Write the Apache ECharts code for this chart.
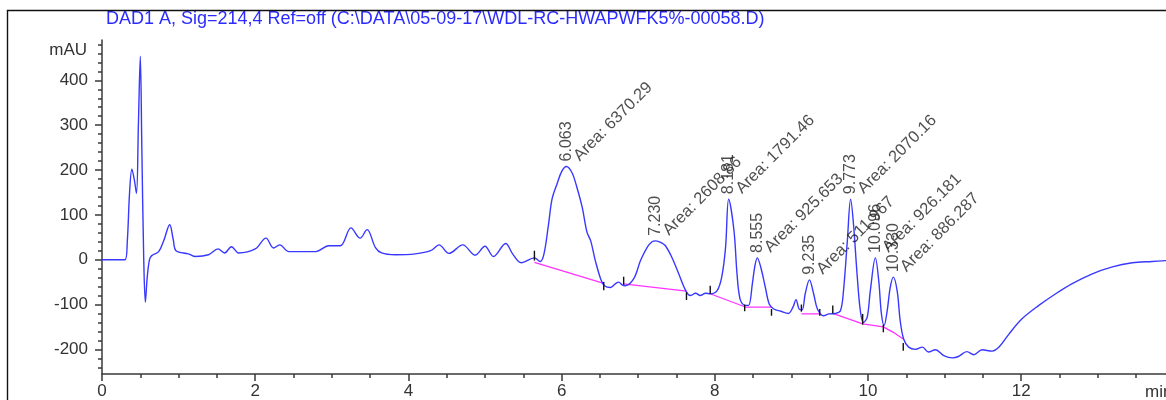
<!DOCTYPE html>
<html>
<head>
<meta charset="utf-8">
<script src="https://cdn.jsdelivr.net/npm/echarts@6/dist/echarts.min.js"></script>
<style>
  html, body { margin: 0; padding: 0; background: #fff; }
  #chart { width: 1166px; height: 400px; }
</style>
</head>
<body>
<div id="chart"></div>
<script>
// DAD1 A chromatogram trace: retention time (min) and absorbance (mAU)
const timeMin = [
  0, 0.30, 0.33, 0.36, 0.39, 0.42, 0.45, 0.475, 0.50, 0.52, 0.545, 0.566, 0.59, 0.62, 0.65, 0.74, 0.805, 0.884, 0.93, 0.967,
  1.13, 1.22, 1.39, 1.515, 1.60, 1.69, 1.785, 2.0, 2.14, 2.24, 2.32, 2.44, 2.79, 2.96, 3.11, 3.25, 3.37, 3.46, 3.57, 3.65,
  3.83, 4.09, 4.29, 4.40, 4.53, 4.71, 4.87, 5.00, 5.11, 5.27, 5.36, 5.475, 5.645, 5.72, 5.77, 5.83, 5.875, 5.94, 6.005, 6.063,
  6.136, 6.20, 6.27, 6.33, 6.38, 6.44, 6.51, 6.56, 6.64, 6.70, 6.745, 6.79, 6.83, 6.94, 7.03, 7.115, 7.18, 7.23, 7.30, 7.355,
  7.44, 7.53, 7.62, 7.68, 7.75, 7.81, 7.88, 7.94, 8.03, 8.09, 8.14, 8.181, 8.25, 8.29, 8.33, 8.39, 8.44, 8.49, 8.52, 8.555,
  8.60, 8.66, 8.71, 8.77, 8.86, 8.96, 9.02, 9.06, 9.10, 9.14, 9.18, 9.235, 9.29, 9.34, 9.42, 9.49, 9.57, 9.64, 9.68, 9.73,
  9.773, 9.81, 9.86, 9.90, 9.94, 9.99, 10.03, 10.096, 10.14, 10.175, 10.21, 10.25, 10.29, 10.33, 10.38, 10.42, 10.465, 10.53, 10.62, 10.71,
  10.79, 10.88, 10.99, 11.10, 11.18, 11.29, 11.38, 11.49, 11.62, 11.71, 11.84, 12.01, 12.23, 12.45, 12.66, 12.92, 13.19, 13.45, 13.71, 13.89
];
const signalMAU = [
  0, 0, 40, 150, 202, 180, 148, 300, 454, 250, 0, -95, -40, 0, 9, 18, 42, 78, 45, 20,
  13, 7, 11, 24, 15, 29, 15, 24, 48, 26, 33, 18, 18, 31, 31, 71, 48, 67, 27, 15,
  11, 13, 20, 33, 14, 33, 10, 30, 7, 36, 13, -7, 4, -4, 13, 80, 135, 169, 198, 208,
  194, 161, 116, 62, 42, -2, -43, -58, -62, -54, -50, -56, -58, -43, -2, 27, 40, 42, 38, 31,
  5, -32, -69, -80, -75, -80, -75, -76, -69, -39, 27, 135, 65, -32, -88, -102, -102, -54, -17, 4,
  -17, -62, -99, -110, -115, -120, -106, -89, -110, -112, -76, -45, -76, -110, -125, -121, -120, -114, -69, 42,
  135, 80, -39, -114, -140, -128, -69, 4, -47, -121, -147, -114, -62, -39, -69, -136, -177, -195, -200, -195,
  -206, -201, -214, -219, -216, -205, -212, -201, -204, -195, -166, -132, -102, -76, -54, -32, -16, -7, -4, -2
];

// Integrated peaks: retention time, apex height (mAU) and reported area
const peakTimes = [6.063, 7.230, 8.181, 8.555, 9.235, 9.773, 10.096, 10.330];
const peakHeights = [208, 42, 135, 4, -45, 135, 4, -39];
const peakAreas = ['6370.29', '2608.86', '1791.46', '925.653', '511.967', '2070.16', '926.181', '886.287'];

// Integration baselines (one list of times and values per drawn segment)
const baselineTimes = [
  [5.645, 6.55], [6.81, 7.63], [7.94, 8.39], [8.39, 8.74], [9.13, 9.37], [9.54, 9.93, 10.2, 10.33, 10.46]
];
const baselineValues = [
  [-6, -53], [-54, -70], [-76, -105], [-106, -106], [-121, -121], [-120, -143, -150, -162, -177]
];

// Peak start/end tick marks: time, upper and lower end (mAU)
const tickTimes = [5.645, 6.55, 6.81, 7.63, 7.94, 8.39, 8.74, 9.13, 9.37, 9.54, 9.93, 10.2, 10.46];
const tickUpper = [20, -50, -38, -73, -58, -100, -110, -100, -110, -102, -121, -145, -186];
const tickLower = [-2, -68, -56, -90, -76, -115, -125, -116, -125, -120, -145, -162, -203];

// Axis ticks
const xMajorTicks = [0, 2, 4, 6, 8, 10, 12];
const xMinorTicks = [0.5, 1, 1.5, 2.5, 3, 3.5, 4.5, 5, 5.5, 6.5, 7, 7.5, 8.5, 9, 9.5, 10.5, 11, 11.5, 12.5, 13, 13.5];
const yMajorTicks = [-200, -100, 0, 100, 200, 300, 400];
const yMinorTicks = [-240, -220, -180, -160, -140, -120, -80, -60, -40, -20, 20, 40, 60, 80, 120, 140, 160, 180,
  220, 240, 260, 280, 320, 340, 360, 380, 420, 440, 460, 480];

const titleText = 'DAD1 A, Sig=214,4 Ref=off (C:\\DATA\\05-09-17\\WDL-RC-HWAPWFK5%-00058.D)';

const FONT = '"Liberation Sans", Arial, sans-serif';
const AXIS_COLOR = '#3a3a3a';
const X_MIN = 0, X_MAX = 13.89, Y_MIN = -255, Y_MAX = 490;

const chart = echarts.init(document.getElementById('chart'), null, { renderer: 'canvas' });

const tracePoints = timeMin.map((t, i) => [t, signalMAU[i]]);

const baselineSeries = baselineTimes.map((ts, s) => ({
  type: 'line',
  data: ts.map((t, i) => [t, baselineValues[s][i]]),
  showSymbol: false,
  silent: true,
  smooth: false,
  lineStyle: { color: '#ff33ff', width: 1.3 },
  z: 3
}));

const option = {
  animation: false,
  grid: { left: 102, right: 0, top: 40, bottom: 26 },
  xAxis: [
    {
      type: 'value', min: X_MIN, max: X_MAX, position: 'bottom',
      axisLine: { show: true, onZero: false, lineStyle: { color: AXIS_COLOR, width: 1.5 } },
      axisTick: { show: true, length: 7, customValues: xMajorTicks, lineStyle: { color: AXIS_COLOR, width: 1.5 } },
      axisLabel: { customValues: xMajorTicks, margin: 9, color: '#333', fontSize: 17, fontFamily: FONT },
      splitLine: { show: false }
    },
    {
      type: 'value', min: X_MIN, max: X_MAX, position: 'bottom',
      axisLine: { show: false, onZero: false },
      axisTick: { show: true, length: 4, customValues: xMinorTicks, lineStyle: { color: AXIS_COLOR, width: 1.5 } },
      axisLabel: { show: false },
      splitLine: { show: false }
    }
  ],
  yAxis: [
    {
      type: 'value', min: Y_MIN, max: Y_MAX, position: 'left',
      axisLine: { show: true, onZero: false, lineStyle: { color: AXIS_COLOR, width: 1.5 } },
      axisTick: { show: true, length: 7, customValues: yMajorTicks, lineStyle: { color: AXIS_COLOR, width: 1.5 } },
      axisLabel: { customValues: yMajorTicks, margin: 14, color: '#333', fontSize: 17, fontFamily: FONT },
      splitLine: { show: false }
    },
    {
      type: 'value', min: Y_MIN, max: Y_MAX, position: 'left',
      axisLine: { show: false, onZero: false },
      axisTick: { show: true, length: 4, customValues: yMinorTicks, lineStyle: { color: AXIS_COLOR, width: 1.5 } },
      axisLabel: { show: false },
      splitLine: { show: false }
    }
  ],
  graphic: [
    {
      type: 'rect', silent: true, z: 100,
      shape: { x: 7.5, y: 10.5, width: 2000, height: 1000 },
      style: { fill: 'none', stroke: '#111', lineWidth: 1.4 }
    },
    {
      type: 'text', left: 106, top: 10, silent: true,
      style: { text: titleText, fill: '#2b2bff', font: '18px ' + FONT }
    },
    {
      type: 'text', right: 1166 - 87, top: 42, silent: true,
      style: { text: 'mAU', fill: '#333', font: '17px ' + FONT }
    },
    {
      type: 'text', left: 1145, top: 384, silent: true,
      style: { text: 'min', fill: '#333', font: '17px ' + FONT }
    }
  ],
  series: [
    {
      type: 'line',
      data: tracePoints,
      showSymbol: false,
      silent: true,
      smooth: 0.35,
      lineStyle: { color: '#3838ff', width: 1.4 },
      z: 4
    },
    ...baselineSeries,
    {
      type: 'custom',
      silent: true,
      data: tickTimes.map((t, i) => [t, tickUpper[i], tickLower[i]]),
      renderItem: function (params, api) {
        const p1 = api.coord([api.value(0), api.value(1)]);
        const p2 = api.coord([api.value(0), api.value(2)]);
        return {
          type: 'line',
          shape: { x1: p1[0], y1: p1[1], x2: p2[0], y2: p2[1] },
          style: { stroke: '#111', lineWidth: 1.4 }
        };
      },
      z: 5
    },
    {
      type: 'scatter',
      silent: true,
      symbolSize: 0,
      data: peakTimes.map((t, i) => [t, peakHeights[i]]),
      label: {
        show: true,
        formatter: p => p.value[0].toFixed(3),
        position: [0, -5],
        rotate: 90,
        align: 'left',
        verticalAlign: 'middle',
        color: '#222',
        fontSize: 16,
        fontFamily: FONT
      },
      z: 6
    },
    {
      type: 'scatter',
      silent: true,
      symbolSize: 0,
      data: peakTimes.map((t, i) => [t, peakHeights[i]]),
      label: {
        show: true,
        formatter: p => 'Area: ' + peakAreas[p.dataIndex],
        position: [10, -8],
        rotate: 45,
        align: 'left',
        verticalAlign: 'middle',
        color: '#222',
        fontSize: 16.5,
        fontFamily: FONT
      },
      z: 6
    }
  ]
};

chart.setOption(option);
</script>
</body>
</html>
